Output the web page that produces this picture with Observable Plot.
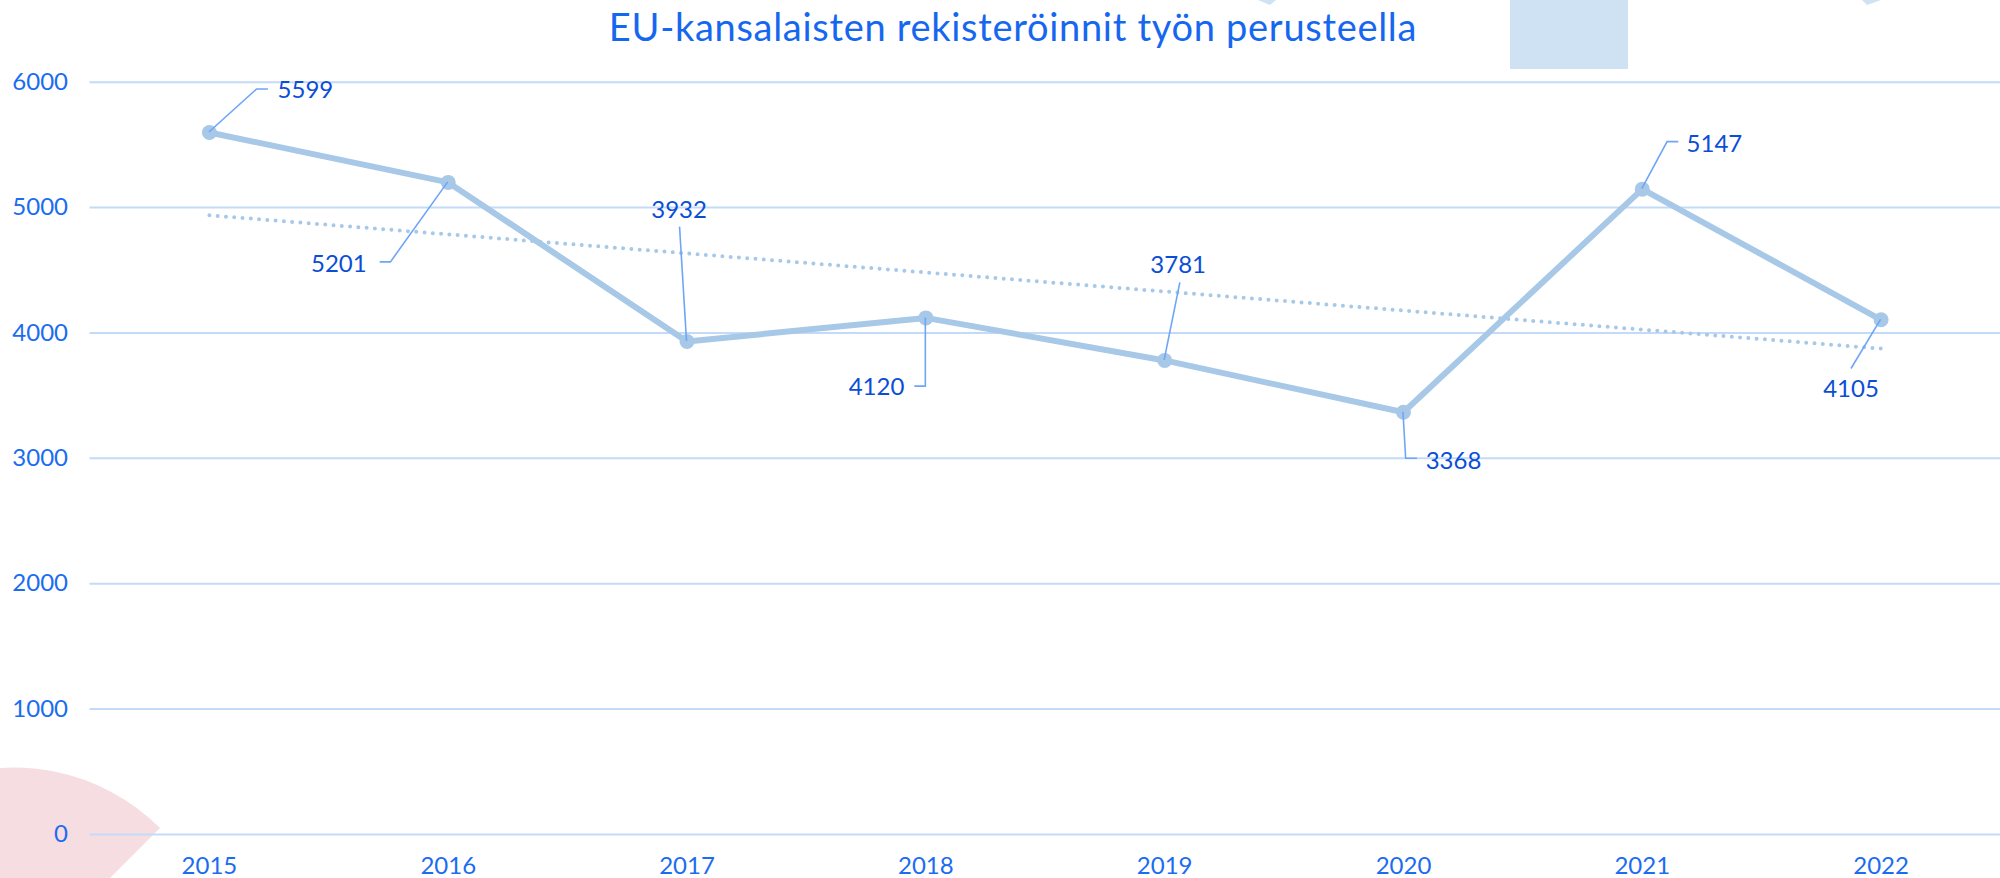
<!DOCTYPE html>
<html>
<head>
<meta charset="utf-8">
<script src="https://cdn.jsdelivr.net/npm/d3@7"></script>
<script src="https://cdn.jsdelivr.net/npm/@observablehq/plot@0.6"></script>
<style>
  html, body { margin: 0; padding: 0; background: #ffffff; }
  #page { position: relative; width: 2000px; height: 878px; overflow: hidden; font-family: Lato, "Noto Sans", sans-serif; }
  #deco { position: absolute; left: 0; top: 0; z-index: 0; }
  #content { position: relative; z-index: 1; }
  #title { height: 60px; line-height: 52px; text-align: center; font-size: 38px; letter-spacing: 0.7px; color: #1667f0; white-space: nowrap; padding-left: 26px; }
</style>
</head>
<body>
<div id="page">
  <svg id="deco" width="2000" height="878">
    <path d="M 14 974 L 160 828 A 206.5 206.5 0 0 0 -192.5 974 Z" fill="#f6dde1"></path>
    <rect x="1510" y="0" width="118" height="69" fill="#cfe2f3"></rect>
    <polygon points="1258,0 1276,0 1270,5" fill="#cfe2f3"></polygon>
    <polygon points="1862,0 1881,0 1867,5" fill="#cfe2f3"></polygon>
  </svg>
  <div id="content">
    <div id="title">EU-kansalaisten rekisteröinnit työn perusteella</div>
    <div id="chart"></div>
  </div>
</div>
<script>
// ---- data ----
const years = [2015, 2016, 2017, 2018, 2019, 2020, 2021, 2022];
const registrations = [5599, 5201, 3932, 4120, 3781, 3368, 5147, 4105];
const yTicks = [0, 1000, 2000, 3000, 4000, 5000, 6000];

// annotation layout: leader-line bends and label anchor, in pixels relative to the point
const labelLayout = [
  { path: [[47.7, -43], [59, -43]], tx: 68.7, ty: -42.5, anchor: "start" },
  { path: [[-57.3, 80], [-68, 80]], tx: -81, ty: 81, anchor: "end" },
  { path: [[-7, -114.4]], tx: -7.4, ty: -131.7, anchor: "middle" },
  { path: [[0, 68.7], [-11, 68.7]], tx: -21, ty: 69.4, anchor: "end" },
  { path: [[15.7, -77.6]], tx: 14, ty: -95.6, anchor: "middle" },
  { path: [[2.7, 46.6], [14, 46.6]], tx: 22.7, ty: 48.3, anchor: "start" },
  { path: [[25.3, -47], [36.5, -47]], tx: 44.8, ty: -45.6, anchor: "start" },
  { path: [[-29.6, 49.2]], tx: -29.6, ty: 69, anchor: "middle" }
];

const table = years.map((yr, i) => ({ year: yr, value: registrations[i] }));

const lineColor = "#a7c8e7";

function annotations(index, scales) {
  const g = d3.create("svg:g");
  years.forEach((yr, i) => {
    const px = scales.x(yr), py = scales.y(registrations[i]);
    const L = labelLayout[i];
    const pts = [[px, py]].concat(L.path.map(([dx, dy]) => [px + dx, py + dy]));
    g.append("path")
      .attr("d", d3.line()(pts))
      .attr("fill", "none")
      .attr("stroke", "#6ea6f7")
      .attr("stroke-width", 1.6);
    g.append("text")
      .attr("x", px + L.tx)
      .attr("y", py + L.ty)
      .attr("dy", "0.36em")
      .attr("text-anchor", L.anchor)
      .attr("fill", "#0b4ed6")
      .attr("font-size", 24)
      .attr("font-family", "Lato, 'Noto Sans', sans-serif")
      .text(String(registrations[i]));
  });
  return g.node();
}

const chart = Plot.plot({
  width: 2000,
  height: 818,
  marginTop: 21.7,
  marginBottom: 44,
  marginLeft: 89.5,
  marginRight: 0,
  style: { background: "transparent", fontSize: "24px", fontFamily: "Lato, 'Noto Sans', sans-serif", color: "#1a6cf0", overflow: "visible" },
  x: { type: "linear", domain: [2014.5, 2022.5], ticks: years, tickFormat: d => String(d), tickSize: 0, tickPadding: 22, label: null },
  y: { domain: [0, 6000], ticks: yTicks, tickFormat: d => String(d), tickSize: 0, tickPadding: 22, label: null },
  marks: [
    Plot.ruleY(yTicks, { stroke: "#c3dbf8", strokeWidth: 2 }),
    Plot.linearRegressionY(table, { x: "year", y: "value", ci: 0, stroke: lineColor, strokeWidth: 4, strokeDasharray: "0 8.3", strokeLinecap: "round" }),
    Plot.line(table, { x: "year", y: "value", stroke: lineColor, strokeWidth: 6, strokeLinejoin: "round" }),
    Plot.dot(table, { x: "year", y: "value", r: 7.5, fill: lineColor, stroke: "none" }),
    annotations
  ]
});
document.getElementById("chart").appendChild(chart);
</script>
</body>
</html>
